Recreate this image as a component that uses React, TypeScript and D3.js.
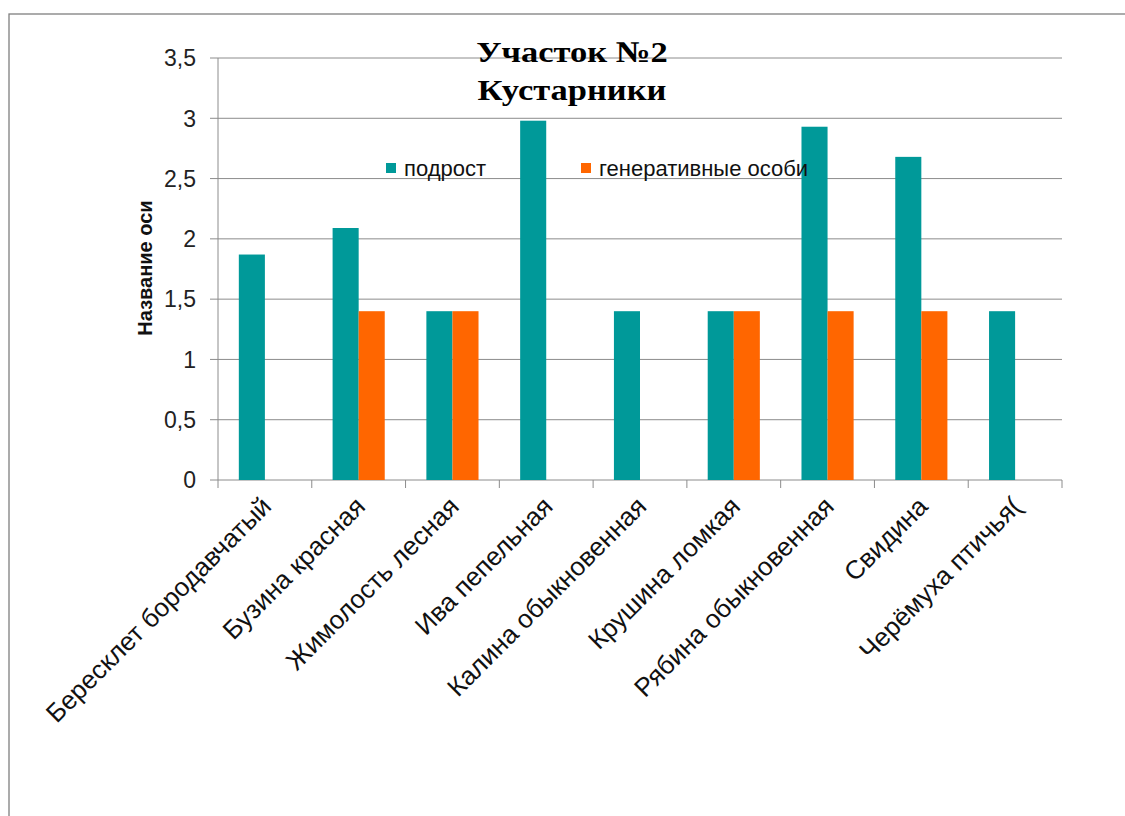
import React from "react";
import * as d3 from "d3";

const categories = [
  "Бересклет бородавчатый",
  "Бузина красная",
  "Жимолость лесная",
  "Ива пепельная",
  "Калина обыкновенная",
  "Крушина ломкая",
  "Рябина обыкновенная",
  "Свидина",
  "Черёмуха птичья(",
];
const seriesNames = ["подрост", "генеративные особи"];
const podrost = [1.87, 2.09, 1.4, 2.98, 1.4, 1.4, 2.93, 2.68, 1.4];
const generative = [0, 1.4, 1.4, 0, 0, 1.4, 1.4, 1.4, 0];
const yTicks = [0, 0.5, 1, 1.5, 2, 2.5, 3, 3.5];
const colors = ["#009999", "#FF6600"];

const W = 1125;
const H = 816;
const plot = { left: 218, right: 1062, top: 58, bottom: 480 };

export default function App() {
  const x0 = d3.scaleBand<string>().domain(categories).range([plot.left, plot.right]).padding(0);
  const bw = x0.bandwidth();
  const x1 = d3
    .scaleBand<string>()
    .domain(seriesNames)
    .range([bw * 0.222, bw * 0.778])
    .padding(0);
  const y = d3.scaleLinear().domain([0, 3.5]).range([plot.bottom, plot.top]);
  const fmt = (v: number) => String(v).replace(".", ",");
  const values = [podrost, generative];
  const sans = "'Liberation Sans', Arial, sans-serif";
  const serif = "'Liberation Serif', 'Times New Roman', serif";
  const grid = "#8c8c8c";

  return (
    <svg
      width={W}
      height={H}
      style={{ position: "absolute", left: 0, top: 0, display: "block", background: "#fff" }}
    >
      {/* chart frame */}
      <rect x={9} y={14} width={W + 20} height={H + 20} fill="#fff" stroke="#7f7f7f" strokeWidth={1.3} />

      {/* gridlines and value ticks */}
      {yTicks.map((t) => (
        <g key={t}>
          <line x1={plot.left - 8} x2={plot.right} y1={y(t)} y2={y(t)} stroke={grid} strokeWidth={1} />
          <text
            x={196}
            y={y(t)}
            dy="0.36em"
            textAnchor="end"
            fontFamily={sans}
            fontSize={23}
            fill="#222"
          >
            {fmt(t)}
          </text>
        </g>
      ))}
      <line x1={plot.left} x2={plot.left} y1={plot.top} y2={plot.bottom} stroke={grid} strokeWidth={1} />

      {/* category ticks */}
      {[...categories.map((c) => x0(c)!), plot.right].map((xv, i) => (
        <line key={i} x1={xv} x2={xv} y1={plot.bottom} y2={plot.bottom + 8} stroke={grid} strokeWidth={1} />
      ))}

      {/* bars */}
      {categories.map((c, i) => (
        <g key={c} transform={`translate(${x0(c)},0)`}>
          {seriesNames.map((s, k) => {
            const v = values[k][i];
            if (!v) return null;
            return (
              <rect
                key={s}
                x={x1(s)}
                y={y(v)}
                width={x1.bandwidth()}
                height={y(0) - y(v)}
                fill={colors[k]}
              />
            );
          })}
        </g>
      ))}

      {/* category labels */}
      {categories.map((c) => (
        <text
          key={c}
          transform={`translate(${x0(c)! + bw / 2 + 8},${plot.bottom + 28}) rotate(-45)`}
          textAnchor="end"
          fontFamily={sans}
          fontSize={26}
          fill="#111"
        >
          {c}
        </text>
      ))}

      {/* axis title */}
      <text
        transform={`translate(152,268) rotate(-90)`}
        textAnchor="middle"
        fontFamily={sans}
        fontSize={20}
        fontWeight="bold"
        fill="#111"
      >
        Название оси
      </text>

      {/* legend */}
      {seriesNames.map((s, k) => {
        const lx = [386, 581][k];
        return (
          <g key={s}>
            <rect x={lx} y={163} width={10} height={10} fill={colors[k]} />
            <text x={lx + 18} y={176} fontFamily={sans} fontSize={22} fill="#111">
              {s}
            </text>
          </g>
        );
      })}

      {/* title */}
      {["Участок №2", "Кустарники"].map((line, i) => (
        <text
          key={line}
          transform={`translate(572,${62 + i * 38}) scale(1.15,1)`}
          textAnchor="middle"
          fontFamily={serif}
          fontSize={30}
          fontWeight="bold"
          fill="#000"
        >
          {line}
        </text>
      ))}
    </svg>
  );
}
